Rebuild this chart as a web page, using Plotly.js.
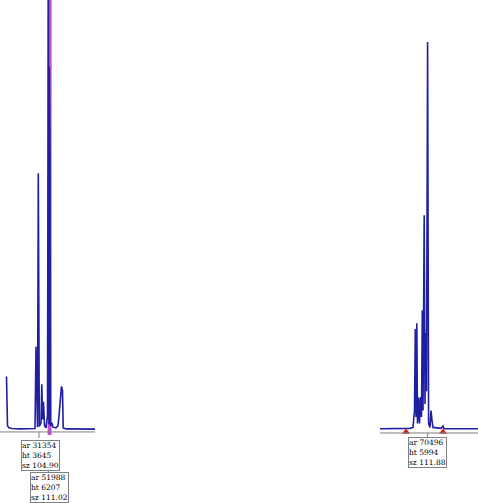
<!DOCTYPE html>
<html><head><meta charset="utf-8">
<script src="https://cdn.plot.ly/plotly-3.0.1.min.js"></script>
<style>html,body{margin:0;padding:0;background:#fff}</style>
</head><body><div id="c" style="width:478px;height:503px"></div>
<script>
// Left panel trace (scan, RFU)
const leftScan = [6.5,7.5,9,12,20,30,35,36,36.8,37.5,38.3,39.3,41,41.8,42.6,43.5,44.5,46,47.5,48.3,49.0,49.3,50.0,50.5,52,53,56,58,59,60.5,61.5,62.5,63.2,66,80,95];
const leftRFU  = [760,60,30,20,15,15,20,1180,200,40,3645,50,100,650,150,400,60,30,200,6207,80,5150,3880,60,100,40,30,60,200,500,620,560,30,15,12,12];
// Right panel trace
const rightScan = [380,400,410,413,414.5,415.3,416,416.8,417.5,418.5,419.5,420.5,421.5,422.3,423,424.2,425,425.8,426.5,427.6,428.6,430,431,432,433,441,443,444,478];
const rightRFU  = [20,20,25,40,300,1560,200,1650,100,500,100,510,200,1850,300,3320,400,1500,600,5994,100,40,300,150,40,25,60,20,20];
// Peak calls
const leftCallScan = [38.3, 48.3];
const leftLabels = ["ar 31354<br>ht 3645<br>sz 104.90", "ar 51988<br>ht 6207<br>sz 111.02"];
const rightCallScan = [427.6];
const rightLabels = ["ar 70496<br>ht 5994<br>sz 111.88"];
const markerScan = [406, 443];
const markerRFU = [-30, -30];

const blue = '#1f1fa0';
const traces = [
  {x:leftScan, y:leftRFU, type:'scatter', mode:'lines', line:{color:blue, width:1.6}, xaxis:'x', yaxis:'y', hoverinfo:'none'},
  {x:rightScan, y:rightRFU, type:'scatter', mode:'lines', line:{color:blue, width:1.6}, xaxis:'x2', yaxis:'y2', hoverinfo:'none'},
  {x:markerScan, y:markerRFU, type:'scatter', mode:'markers', marker:{symbol:'triangle-up', color:'#d02020', size:7}, xaxis:'x2', yaxis:'y2', cliponaxis:false, hoverinfo:'none'}
];
const gray = '#808080';
const shapes = [
  {type:'line', xref:'x', yref:'y', x0:0, x1:95, y0:-28, y1:-28, line:{color:gray, width:1}},
  {type:'line', xref:'x2', yref:'y2', x0:380, x1:478, y0:-46, y1:-46, line:{color:gray, width:1}},
  {type:'line', xref:'x', yref:'y', x0:leftCallScan[1]+1.3, x1:leftCallScan[1]+1.3, y0:-71, y1:6200, line:{color:'#c050d0', width:4}, layer:'below'},
  {type:'line', xref:'x', yref:'y', x0:leftCallScan[0]+0.7, x1:leftCallScan[0]+0.7, y0:-28, y1:-114, line:{color:gray, width:1}},
  {type:'line', xref:'x', yref:'y', x0:leftCallScan[1], x1:leftCallScan[1], y0:-560, y1:-620, line:{color:gray, width:1}},
  {type:'line', xref:'x2', yref:'y2', x0:rightCallScan[0], x1:rightCallScan[0], y0:-46, y1:-108, line:{color:gray, width:1}}
];
const fnt = {family:'DejaVu Serif, serif', size:7.5, color:'#000'};
const ann = [
  {xref:'x', yref:'y', x:40, y:-365, text:leftLabels[0], showarrow:false, align:'left', font:fnt, bordercolor:gray, borderwidth:1, borderpad:0, bgcolor:'#fff'},
  {xref:'x', yref:'y', x:49, y:-812, text:leftLabels[1], showarrow:false, align:'left', font:fnt, bordercolor:gray, borderwidth:1, borderpad:0, bgcolor:'#fff'},
  {xref:'x2', yref:'y2', x:427, y:-340, text:rightLabels[0], showarrow:false, align:'left', font:fnt, bordercolor:gray, borderwidth:1, borderpad:0, bgcolor:'#fff'}
];
const layout = {
  width:478, height:503, margin:{l:0,r:0,t:0,b:0}, showlegend:false,
  paper_bgcolor:'#fff', plot_bgcolor:'rgba(0,0,0,0)',
  xaxis:{domain:[0,95/478], range:[0,95], visible:false, fixedrange:true},
  yaxis:{domain:[0,1], range:[-1037,6106], visible:false, fixedrange:true},
  xaxis2:{domain:[380/478,1], range:[380,478], visible:false, anchor:'y2'},
  yaxis2:{domain:[0,1], range:[-1128,6644], visible:false, anchor:'x2'},
  shapes:shapes, annotations:ann
};
Plotly.newPlot('c', traces, layout, {staticPlot:true});
</script></body></html>
